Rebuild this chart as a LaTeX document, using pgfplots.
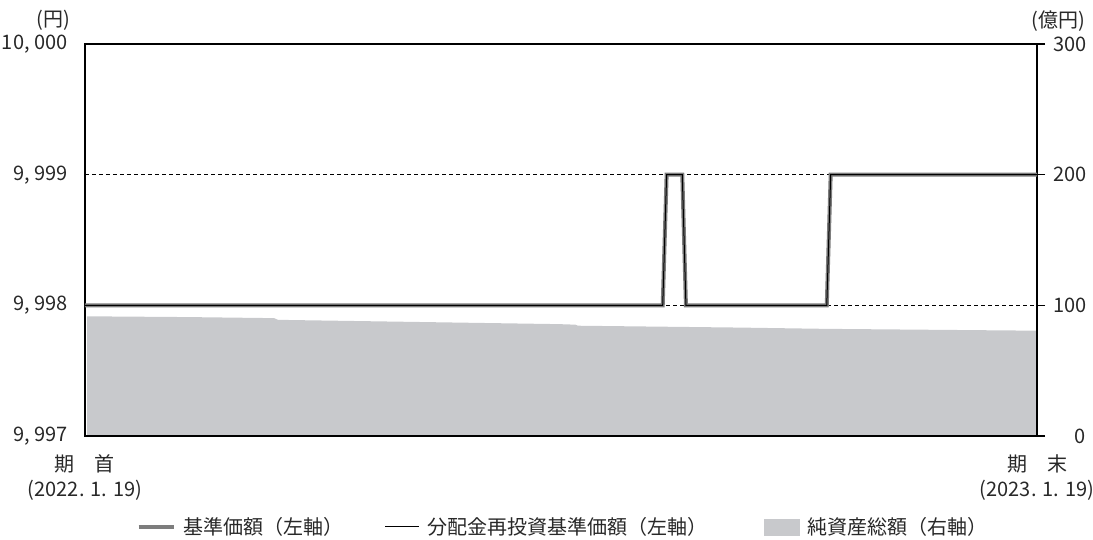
\documentclass[border=0pt]{standalone}
\usepackage{fontspec}
\setmainfont{Noto Sans CJK JP}
\usepackage{pgfplots}
\pgfplotsset{compat=1.18}

\definecolor{navgray}{RGB}{125,125,125}
\definecolor{areagray}{RGB}{200,201,204}
\definecolor{txt}{RGB}{40,40,40}

\pgfplotsset{
  longline legend/.style={legend image code/.code={\draw[##1] (0pt,0pt) -- (35pt,0pt);}},
  shortline legend/.style={legend image code/.code={\draw[##1] (0pt,0pt) -- (34pt,0pt);}},
  box legend/.style={legend image code/.code={\fill[areagray] (0pt,-8pt) rectangle (35pt,8pt);}},
}

\begin{document}
\begin{tikzpicture}[font=\fontsize{20}{25}\selectfont]
\path[use as bounding box] (0pt,0pt) rectangle (1093pt,539pt);

% right axis: net assets (oku yen)
\begin{axis}[
  at={(85pt,103pt)}, anchor=south west,
  scale only axis, width=952pt, height=392pt,
  xmin=0, xmax=365, ymin=0, ymax=300,
  axis x line=none, axis y line*=right,
  axis line style={line width=1.2pt, -},
  ytick={0,100,200,300}, yticklabels={0,100,200,300},
  tick align=outside, major tick length=8pt,
  tick style={line width=1.2pt, black},
  yticklabel style={text width=32pt, align=right, text=txt, xshift=5pt},
  every axis y label/.style={at={(rel axis cs:1,1)}, anchor=base east,
    inner sep=0pt, xshift=48pt, yshift=17pt, text=txt},
  ylabel={(億円)},
]
\addplot[fill=areagray, draw=none] coordinates {
  (0.8,91.6) (40,91.0) (72.5,90.2) (74,88.9) (120,87.5) (182,85.6)
  (188,85.2) (189,84.4) (250,83.0) (284,82.0) (330,81.2) (365,80.6)
} \closedcycle;
\end{axis}

% left axis: NAV (yen)
\begin{axis}[
  at={(85pt,103pt)}, anchor=south west,
  scale only axis, width=952pt, height=392pt,
  xmin=0, xmax=365, ymin=9997, ymax=10000,
  scaled y ticks=false, scaled x ticks=false,
  axis line style={line width=1.2pt},
  xtick={0,365},
  xticklabels={{期\hspace{1em}首\\(2022. 1. 19)},{期\hspace{1em}末\\(2023. 1. 19)}},
  xticklabel style={align=center, text=txt, yshift=-15pt,
    font=\fontsize{20}{25}\selectfont},
  ytick={9997,9998,9999,10000},
  yticklabels={{9, 997},{9, 998},{9, 999},{10, 000}},
  yticklabel style={text=txt, xshift=-14pt},
  major tick length=0pt,
  ymajorgrids, grid style={black, line width=0.6pt, dash pattern=on 4pt off 3pt},
  every axis y label/.style={at={(rel axis cs:0,1)}, anchor=base east,
    inner sep=0pt, xshift=-15pt, yshift=18pt, text=txt},
  ylabel={(円)},
  legend columns=3,
  legend style={draw=none, fill=none, text=txt,
    at={(axis description cs:0.502,-0.232)}, anchor=center,
    /tikz/column 1/.style={column sep=6pt},
    /tikz/column 2/.style={column sep=39pt},
    /tikz/column 3/.style={column sep=6pt},
    /tikz/column 4/.style={column sep=54pt},
    /tikz/column 5/.style={column sep=6pt}},
]
\addplot[navgray, line width=4pt, longline legend] coordinates {
  (0,9998) (221.5,9998) (223,9999) (229,9999) (230.4,9998)
  (284.4,9998) (285.9,9999) (365,9999)
};
\addlegendentry{基準価額（左軸）}
\addplot[black, line width=1pt, shortline legend] coordinates {
  (0,9998) (221.5,9998) (223,9999) (229,9999) (230.4,9998)
  (284.4,9998) (285.9,9999) (365,9999)
};
\addlegendentry{分配金再投資基準価額（左軸）}
\addlegendimage{box legend}
\addlegendentry{純資産総額（右軸）}
\end{axis}
\end{tikzpicture}
\end{document}
